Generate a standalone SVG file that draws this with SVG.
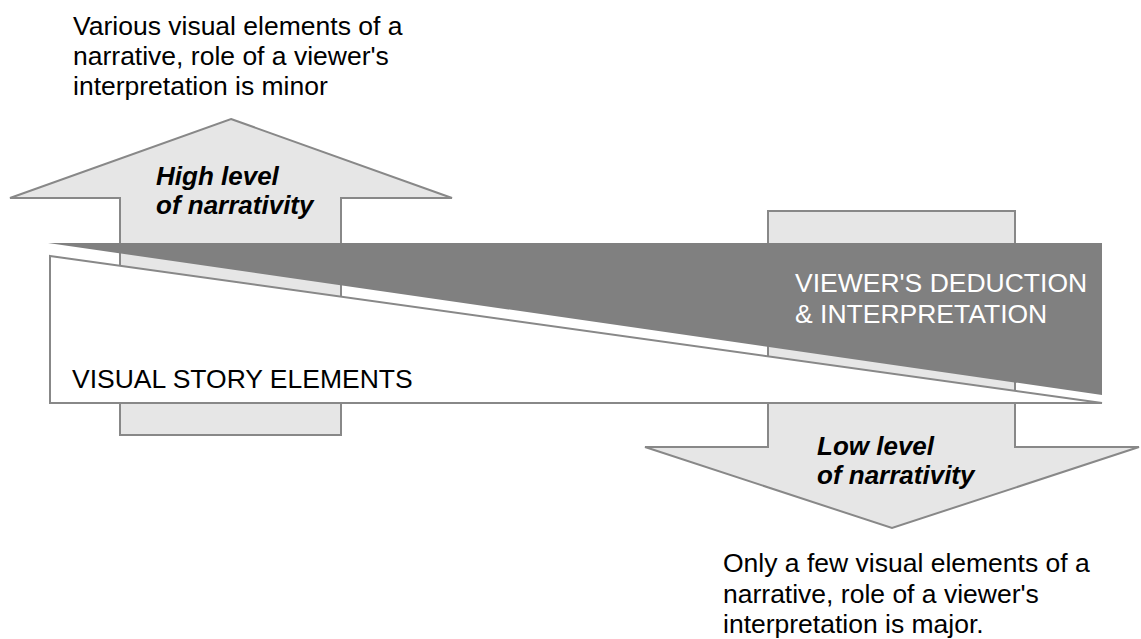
<svg xmlns="http://www.w3.org/2000/svg" width="1141" height="639" viewBox="0 0 1141 639">
<style>
.arrow{fill:#e6e6e6;stroke:#888;stroke-width:2}
.t{font-family:"Liberation Sans",Arial,sans-serif;font-size:26.5px;fill:#000}
.w{fill:#fff}
.bi{font-family:"Liberation Sans",Arial,sans-serif;font-size:26px;font-weight:bold;font-style:italic;fill:#000}
</style>
<rect width="1141" height="639" fill="#fff"/>
<g id="high-arrow">
<polygon class="arrow" points="231,119 452,198 341,198 341,435 120,435 120,198 10,198"/>
</g>
<g id="low-arrow">
<polygon class="arrow" points="768,211 1015,211 1015,447 1139,447 892,528 645,447 768,447"/>
</g>
<g id="visual-story-elements">
<polygon points="50,256 1102,403 50,403" fill="#fff" stroke="#888" stroke-width="2"/>
<text class="t" x="72" y="388">VISUAL STORY ELEMENTS</text>
</g>
<g id="viewers-deduction">
<polygon points="48,243 1102,243 1102,395" fill="#808080"/>
<text class="t w" x="795" y="292">VIEWER'S DEDUCTION</text>
<text class="t w" x="795" y="323">&amp; INTERPRETATION</text>
</g>
<g id="high-label">
<text class="bi" x="156" y="185">High level</text>
<text class="bi" x="156" y="214">of narrativity</text>
</g>
<g id="low-label">
<text class="bi" x="817" y="455">Low level</text>
<text class="bi" x="817" y="484">of narrativity</text>
</g>
<g id="top-caption">
<text class="t" x="73" y="35">Various visual elements of a</text>
<text class="t" x="73" y="65">narrative, role of a viewer's</text>
<text class="t" x="73" y="95">interpretation is minor</text>
</g>
<g id="bottom-caption">
<text class="t" x="723" y="572">Only a few visual elements of a</text>
<text class="t" x="723" y="603">narrative, role of a viewer's</text>
<text class="t" x="723" y="633">interpretation is major.</text>
</g>
<g id="connectors"></g>
</svg>
